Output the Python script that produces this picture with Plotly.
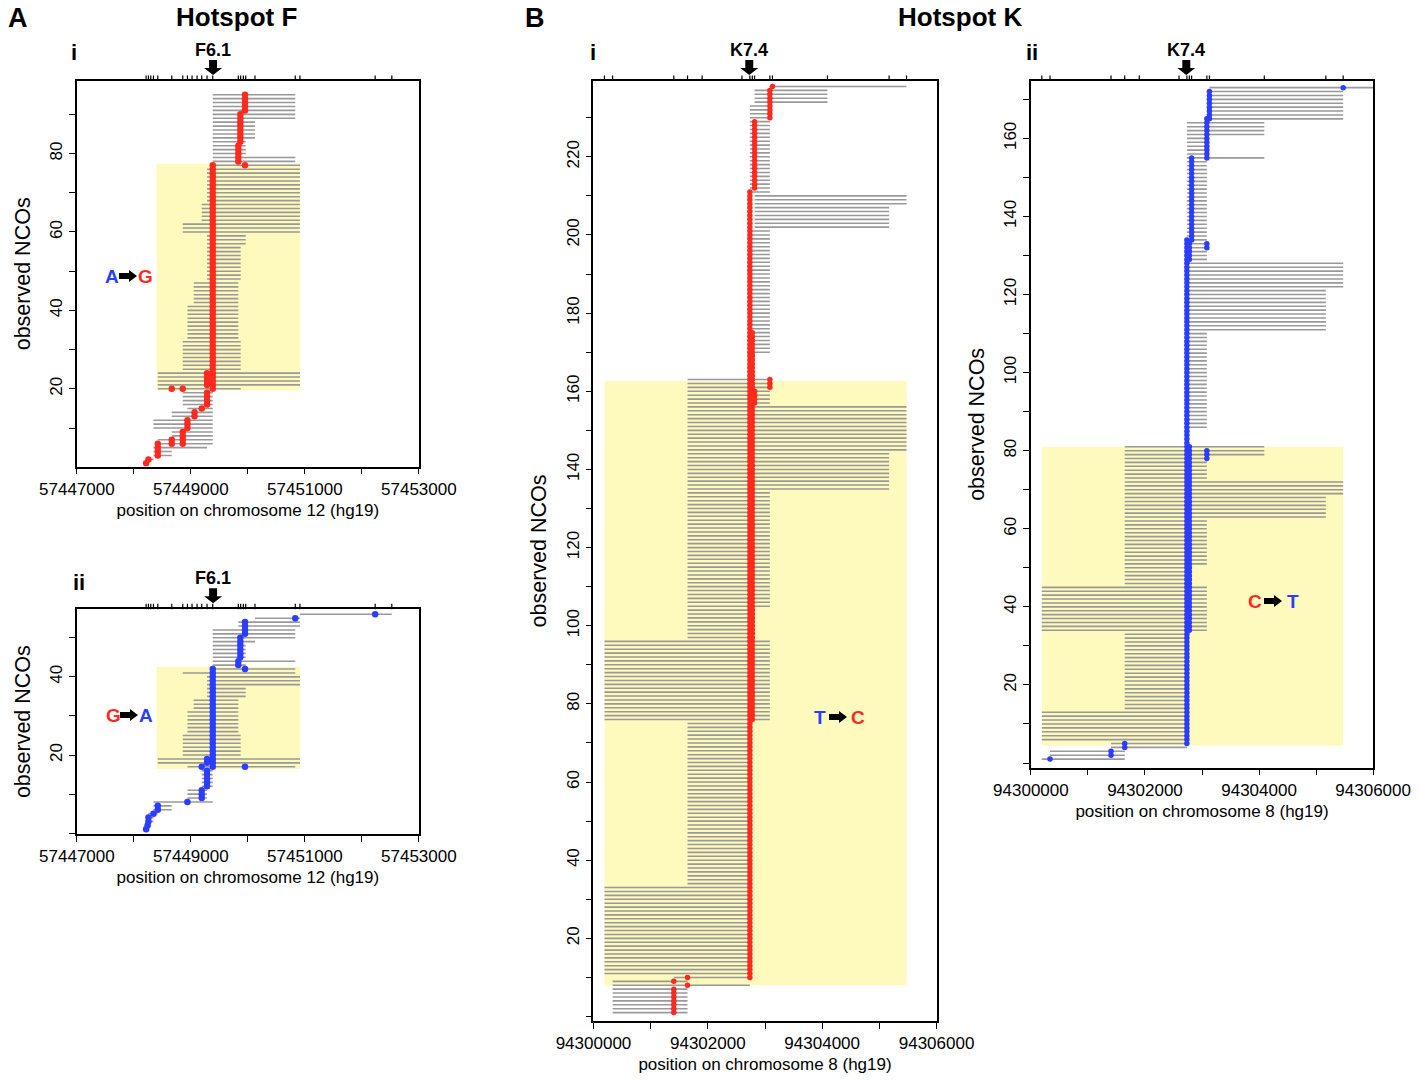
import plotly.graph_objects as go

W, H = 1420, 1080
FONT = "Liberation Sans, Arial, sans-serif"
RED = "#FF2A1F"
BLUE = "#2B3DFF"
GREY = "#999999"
YELLOW = "#FEF9BD"

# ---------------- Hotspot F (chr12) ----------------
F_SNPS = [57448215, 57448256, 57448297, 57448344, 57448420, 57448665, 57448858,
          57448940, 57449021, 57449109, 57449191, 57449284, 57449384, 57449833,
          57449874, 57449921, 57449962, 57450125, 57450832, 57450914, 57452234,
          57452526]
F_CENTER = 57449390
F_XTICKS = [57447000, 57449000, 57451000, 57453000]
F_XMINOR = [57448000, 57450000, 57452000]

# panel A-i : A->G  (rows first..last, tract start/end)
AI_LINE_FIRST = [1, 2, 3, 5, 6, 8, 10, 13, 15, 16, 20, 21, 25, 33, 42, 48, 57, 60, 63, 68, 77, 78, 80, 84, 89]
AI_LINE_LAST = [1, 2, 4, 5, 7, 9, 12, 14, 15, 19, 20, 24, 32, 41, 47, 56, 59, 62, 67, 76, 77, 79, 83, 88, 95]
AI_LINE_START = [57448215, 57448215, 57448344, 57448344, 57448420, 57448665, 57448344, 57448665,
                 57448940, 57448858, 57448420, 57448420, 57448858, 57448940, 57449050, 57449284,
                 57449284, 57448858, 57449191, 57449284, 57449384, 57449384, 57449384, 57449384,
                 57449384]
AI_LINE_END = [57448256, 57448344, 57448665, 57449284, 57449384, 57449384, 57449384, 57449384,
               57449384, 57449384, 57449874, 57450914, 57449874, 57449833, 57449833, 57449874,
               57449962, 57450914, 57450914, 57450914, 57450914, 57450832, 57449962, 57450125,
               57450832]
AI_DOT_FIRST = [1, 2, 3, 6, 6, 10, 13, 15, 16, 20, 20, 20, 21, 77, 78, 83, 91]
AI_DOT_LAST = [1, 2, 6, 7, 9, 12, 14, 15, 19, 20, 20, 77, 24, 77, 82, 90, 95]
AI_DOT_POS = [57448215, 57448256, 57448420, 57448665, 57448858, 57448940, 57449065, 57449191,
              57449284, 57448665, 57448858, 57449384, 57449284, 57449950, 57449833, 57449868,
              57449950]
AI_BOX_X = [57448400, 57450920]
AI_BOX_Y = [19.6, 77.4]

# panel A-ii : G->A
AII_LINE_FIRST = [1, 2, 3, 5, 6, 8, 9, 12, 17, 18, 20, 26, 32, 35, 38, 41, 42, 43, 44, 45, 49, 50, 53, 55, 56]
AII_LINE_LAST = [1, 2, 4, 5, 7, 8, 11, 16, 17, 19, 25, 31, 34, 37, 40, 41, 42, 43, 44, 48, 49, 52, 54, 55, 56]
AII_LINE_START = [57448215, 57448215, 57448215, 57448256, 57448344, 57448344, 57448940, 57449191,
                  57448940, 57448420, 57448858, 57448940, 57449050, 57449284, 57449284, 57448858,
                  57449384, 57449384, 57449384, 57449384, 57449384, 57449384, 57449833, 57450125,
                  57450914]
AII_LINE_END = [57448256, 57448297, 57448344, 57448420, 57448665, 57449384, 57449284, 57449384,
                57450832, 57450914, 57449874, 57449833, 57449833, 57449962, 57450914, 57450832,
                57450832, 57449962, 57450832, 57449962, 57450125, 57450832, 57450914, 57450914,
                57452526]
AII_DOT_FIRST = [1, 2, 3, 5, 6, 8, 9, 12, 17, 17, 17, 18, 42, 43, 45, 51, 55, 56]
AII_DOT_LAST = [1, 2, 4, 5, 7, 8, 11, 16, 17, 42, 17, 19, 42, 44, 50, 54, 55, 56]
AII_DOT_POS = [57448215, 57448240, 57448256, 57448344, 57448420, 57448940, 57449191, 57449284,
               57449191, 57449384, 57449950, 57449284, 57449950, 57449833, 57449868, 57449950,
               57450832, 57452234]
AII_BOX_X = [57448400, 57450920]
AII_BOX_Y = [16.45, 42.5]

# ---------------- Hotspot K (chr8) ----------------
K_SNPS = [94300192, 94300335, 94301405, 94301645, 94301900, 94302597, 94302735, 94302778,
          94302818, 94303085, 94303130, 94304092, 94305171, 94305475]
K_CENTER = 94302725
K_XTICKS = [94300000, 94302000, 94304000, 94306000]
K_XMINOR = [94301000, 94303000, 94305000]

# panel B-i : T->C
BI_LINE_FIRST = [1, 8, 9, 10, 11, 34, 76, 97, 105, 135, 145, 157, 164, 170, 202, 208, 211, 234, 238]
BI_LINE_LAST = [7, 8, 9, 10, 33, 75, 96, 104, 134, 144, 156, 163, 169, 201, 207, 210, 233, 237, 238]
BI_LINE_START = [94300335, 94300335, 94300335, 94301405, 94300192, 94301645, 94300192, 94301645,
                 94301645, 94301645, 94301645, 94301645, 94302735, 94302735, 94302818, 94302818,
                 94302735, 94302818, 94303085]
BI_LINE_END = [94301645, 94302735, 94301645, 94302735, 94302735, 94302735, 94303085, 94302735,
               94303085, 94305171, 94305475, 94303085, 94302778, 94303085, 94305171, 94305475,
               94303085, 94304092, 94305475]
BI_DOT_FIRST = [1, 8, 9, 10, 10, 76, 157, 161, 212, 230, 238]
BI_DOT_LAST = [7, 8, 9, 10, 211, 175, 160, 163, 229, 237, 238]
BI_DOT_POS = [94301405, 94301645, 94301405, 94301645, 94302735, 94302778, 94302818, 94303085,
              94302818, 94303085, 94303130]
BI_BOX_X = [94300192, 94305475]
BI_BOX_Y = [8.0, 162.6]

# panel B-ii : C->T
BII_LINE_FIRST = [1, 2, 4, 6, 14, 34, 46, 51, 63, 69, 73, 79, 82, 86, 111, 122, 129, 155, 156, 161, 165, 173]
BII_LINE_LAST = [1, 3, 5, 13, 33, 45, 50, 62, 68, 72, 78, 81, 85, 110, 121, 128, 154, 155, 160, 164, 172, 173]
BII_LINE_START = [94300192, 94300335, 94301405, 94300192, 94301645, 94300192, 94301645, 94301645,
                  94301645, 94301645, 94301645, 94301645, 94302735, 94302735, 94302735, 94302735,
                  94302735, 94302735, 94302735, 94302735, 94303085, 94303130]
BII_LINE_END = [94301645, 94301645, 94302735, 94302735, 94302735, 94303085, 94302735, 94303085,
                94305171, 94305475, 94303085, 94304092, 94302778, 94303085, 94305171, 94305475,
                94303085, 94304092, 94303085, 94304092, 94305475, 94306000]
BII_DOT_FIRST = [1, 2, 4, 5, 34, 129, 78, 132, 134, 155, 165, 173]
BII_DOT_LAST = [1, 3, 5, 134, 81, 133, 80, 133, 155, 165, 172, 173]
BII_DOT_POS = [94300335, 94301405, 94301645, 94302735, 94302778, 94302778, 94303085, 94303085,
               94302818, 94303085, 94303130, 94305475]
BII_BOX_X = [94300192, 94305475]
BII_BOX_Y = [4.5, 81.0]

# ---------------- layout geometry (pixels) ----------------
PANELS = [
    dict(x=(76.7, 419.0), y=(81.0, 466.7), xr=[57447000, 57453000], yr=[0.14, 98.5], ymax=90),
    dict(x=(76.7, 419.0), y=(609.3, 834.0), xr=[57447000, 57453000], yr=[-0.2, 57.28], ymax=50),
    dict(x=(593.3, 936.7), y=(81.0, 1021.0), xr=[94300000, 94306000], yr=[-1.15, 239.4], ymax=230),
    dict(x=(1030.7, 1373.3), y=(81.0, 767.7), xr=[94300000, 94306000], yr=[-1.2, 174.7], ymax=170),
]


def expand_lines(first, last, start, end):
    xs, ys = [], []
    for f, l, s, e in zip(first, last, start, end):
        for r in range(f, l + 1):
            xs += [s, e, None]
            ys += [r, r, None]
    return xs, ys


def expand_dots(first, last, pos):
    xs, ys = [], []
    for f, l, p in zip(first, last, pos):
        for r in range(f, l + 1):
            xs.append(p)
            ys.append(r)
    return xs, ys


fig = go.Figure()
shapes = []
annots = []

panel_data = [
    (AI_LINE_FIRST, AI_LINE_LAST, AI_LINE_START, AI_LINE_END, AI_DOT_FIRST, AI_DOT_LAST, AI_DOT_POS,
     AI_BOX_X, AI_BOX_Y, RED, 6.5, F_SNPS, F_CENTER, "F6.1"),
    (AII_LINE_FIRST, AII_LINE_LAST, AII_LINE_START, AII_LINE_END, AII_DOT_FIRST, AII_DOT_LAST, AII_DOT_POS,
     AII_BOX_X, AII_BOX_Y, BLUE, 6.5, F_SNPS, F_CENTER, "F6.1"),
    (BI_LINE_FIRST, BI_LINE_LAST, BI_LINE_START, BI_LINE_END, BI_DOT_FIRST, BI_DOT_LAST, BI_DOT_POS,
     BI_BOX_X, BI_BOX_Y, RED, 5.5, K_SNPS, K_CENTER, "K7.4"),
    (BII_LINE_FIRST, BII_LINE_LAST, BII_LINE_START, BII_LINE_END, BII_DOT_FIRST, BII_DOT_LAST, BII_DOT_POS,
     BII_BOX_X, BII_BOX_Y, BLUE, 5.5, K_SNPS, K_CENTER, "K7.4"),
]

for i, (p, d) in enumerate(zip(PANELS, panel_data), start=1):
    (lf, ll, ls, le, df, dl, dp, bx, by, col, msize, snps, center, label) = d
    xn = "x" if i == 1 else f"x{i}"
    yn = "y" if i == 1 else f"y{i}"
    lx, ly = expand_lines(lf, ll, ls, le)
    fig.add_trace(go.Scatter(x=lx, y=ly, mode="lines", xaxis=xn, yaxis=yn,
                             line=dict(color=GREY, width=1.6), hoverinfo="skip", showlegend=False))
    dx, dy = expand_dots(df, dl, dp)
    fig.add_trace(go.Scatter(x=dx, y=dy, mode="markers", xaxis=xn, yaxis=yn,
                             marker=dict(color=col, size=msize, line=dict(width=0)),
                             showlegend=False, cliponaxis=True))
    shapes.append(dict(type="rect", xref=xn, yref=yn, x0=bx[0], x1=bx[1], y0=by[0], y1=by[1],
                       fillcolor=YELLOW, line=dict(width=0), layer="below"))
    hpx = p["y"][1] - p["y"][0]
    for s in snps:
        shapes.append(dict(type="line", xref=xn, yref=f"{yn} domain", x0=s, x1=s, y0=1.0,
                           y1=1.0 + 5.5 / hpx, line=dict(color="black", width=1.2)))
    shapes.append(dict(type="path", xref=xn, yref=f"{yn} domain", xsizemode="pixel", ysizemode="pixel",
                       xanchor=center, yanchor=1.0,
                       path="M -4 21 L 4 21 L 4 13 L 9 13 L 0 6 L -9 13 L -4 13 Z",
                       fillcolor="black", line=dict(width=0)))
    annots.append(dict(text=f"<b>{label}</b>", xref=xn, yref=f"{yn} domain", x=center, y=1.0,
                       yshift=31, showarrow=False, font=dict(size=18, family=FONT, color="black"),
                       xanchor="center", yanchor="middle"))

    xdom = [p["x"][0] / W, p["x"][1] / W]
    ydom = [1 - p["y"][1] / H, 1 - p["y"][0] / H]
    xticks = F_XTICKS if i <= 2 else K_XTICKS
    xminor = F_XMINOR if i <= 2 else K_XMINOR
    ymajor = list(range(20, p["ymax"] + 1, 20))
    yminor = [v for v in range(0, p["ymax"] + 1, 10) if v not in ymajor]
    xtitle = "position on chromosome 12 (hg19)" if i <= 2 else "position on chromosome 8 (hg19)"
    axcommon = dict(showline=True, mirror=True, linecolor="black", linewidth=1.5, ticks="outside",
                    ticklen=6, tickwidth=1.3, tickcolor="black", showgrid=False, zeroline=False,
                    tickfont=dict(size=17, family=FONT, color="black"))
    fig.layout[f"xaxis{'' if i == 1 else i}"] = dict(
        domain=xdom, range=[p["xr"][0] - 3, p["xr"][1] + 3], anchor=yn, tickmode="array",
        tickvals=xticks, ticktext=[str(v) for v in xticks],
        minor=dict(tickvals=xminor, ticks="outside", ticklen=6, tickwidth=1.3, tickcolor="black"),
        title=dict(text=xtitle, font=dict(size=17, family=FONT, color="black"), standoff=6),
        **axcommon)
    fig.layout[f"yaxis{'' if i == 1 else i}"] = dict(
        domain=ydom, range=p["yr"], anchor=xn, tickmode="array", tickvals=ymajor,
        ticktext=[str(v) for v in ymajor], tickangle=-90,
        minor=dict(tickvals=yminor, ticks="outside", ticklen=6, tickwidth=1.3, tickcolor="black"),
        title=dict(text="observed NCOs", font=dict(size=21.5, family=FONT, color="black"), standoff=11),
        **axcommon)


def ptext(text, x, y, size, color="black", bold=True):
    annots.append(dict(text=f"<b>{text}</b>" if bold else text, xref="paper", yref="paper",
                       x=x / W, y=1 - y / H, showarrow=False, xanchor="center", yanchor="middle",
                       font=dict(size=size, family=FONT, color=color)))


def right_arrow(cx, cy):
    shapes.append(dict(type="path", xref="paper", yref="paper", xsizemode="pixel", ysizemode="pixel",
                       xanchor=cx / W, yanchor=1 - cy / H,
                       path="M -9 -3 L 1 -3 L 1 -6 L 9 0 L 1 6 L 1 3 L -9 3 Z",
                       fillcolor="black", line=dict(width=0)))


ptext("A", 18, 18, 27)
ptext("B", 535, 18, 27)
ptext("Hotspot F", 236, 17, 26)
ptext("Hotspot K", 960, 17, 26)
ptext("i", 74, 52, 22)
ptext("ii", 79, 582, 22)
ptext("i", 593, 52, 22)
ptext("ii", 1032, 52, 22)

ptext("A", 112, 276, 19, BLUE)
right_arrow(128, 276)
ptext("G", 145, 276, 19, RED)
ptext("G", 113, 715, 19, RED)
right_arrow(129, 715)
ptext("A", 146, 715, 19, BLUE)
ptext("T", 820, 717, 19, BLUE)
right_arrow(838, 717)
ptext("C", 858, 717, 19, RED)
ptext("C", 1255, 601, 19, RED)
right_arrow(1273, 601)
ptext("T", 1293, 601, 19, BLUE)

fig.update_layout(width=W, height=H, margin=dict(l=0, r=0, t=0, b=0, autoexpand=False),
                  paper_bgcolor="white", plot_bgcolor="white", shapes=shapes, annotations=annots,
                  font=dict(family=FONT, color="black"), showlegend=False)

fig.write_html("out.html", config={"displayModeBar": False},
               post_script="document.body.style.margin='0px';")
